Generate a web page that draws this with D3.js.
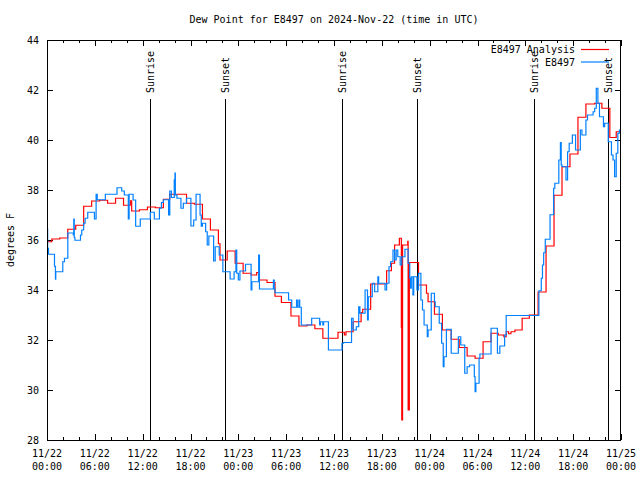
<!DOCTYPE html>
<html><head><meta charset="utf-8">
<script src="https://cdn.jsdelivr.net/npm/d3@7"></script>
<style>
body{margin:0;background:#fff}
svg{display:block}
text{font-family:"DejaVu Sans Mono",monospace;font-size:10px;fill:#000}
</style>
</head><body><svg id="c" width="640" height="480"></svg>
<script>
// ---- data (hours since 2024-11-22 00:00 UTC, dew point in °F) ----
const redHours = [0,0.6,1.6,2.6,3.6,4.6,5.6,6.6,7.6,8.6,9.6,10.45,10.62,11.6,12.6,13.6,14.6,15.4,17.5,18.5,19.5,20.5,21.5,21.7,22.6,23.6,24.6,25.6,26.3,26.6,27.6,28.6,29.4,30.6,31.6,32.6,33.6,34.6,36.5,37.3,37.5,38.4,39.4,39.6,40.6,42.6,43.2,43.6,44.2,44.45,44.5,44.6,45.25,45.3,45.45,46.6,47.6,47.8,48.6,49.6,50.7,51.7,52.7,53.7,54.7,55.7,56.6,57.3,57.6,57.9,58.2,58.7,59.6,60.5,61.6,62.6,63.6,64.6,65.6,66.6,67.6,68.7,69.6,70.6,71.4,72];
const redDew   = [35.93,36.04,36.08,36.43,36.59,37.35,37.56,37.59,37.47,37.67,37.39,37.57,37.16,37.21,37.32,37.29,37.63,37.83,37.47,37.43,36.84,36.4,35.85,35.2,35.56,35.07,34.67,34.6,34.7,34.4,34.3,33.75,33.5,32.96,32.56,32.6,32.45,32.07,32.31,32.2,32.33,32.73,33.1,33.23,34.24,34.77,35.07,35.8,36.07,32.5,28.8,35.8,35.95,29.2,35.1,34.2,33.87,33.53,33.03,32.4,32.03,31.7,31.36,31.27,31.93,32.27,32.2,32.13,32.33,32.25,32.33,32.4,32.87,33.0,33.92,35.76,37.79,38.93,39.44,40.91,41.44,41.47,41.27,40.1,40.33,40.33];

const blueHours = [0,0.08,0.19,0.94,1.06,1.1,1.98,2.19,2.61,3.3,3.36,3.42,3.5,4.2,4.36,4.6,4.78,5.11,5.95,6.16,6.3,7.32,8.78,9.37,9.7,10.2,10.3,10.8,11.12,11.7,12.96,13.46,14.1,14.35,14.6,15.25,15.4,15.6,15.96,16.05,16.1,16.3,16.8,17.1,17.5,18.05,18.4,18.7,19.2,19.35,19.5,19.9,20.1,20.3,20.9,21.1,21.6,22.06,22.97,23.47,23.7,23.8,24.0,24.2,24.9,25.6,25.7,26.55,26.65,28.0,28.4,28.5,28.6,30.3,30.7,31.3,31.4,31.6,31.7,31.9,33.2,34.2,34.3,34.6,34.7,35.3,37.0,37.2,38.2,38.4,38.8,39.1,39.25,39.9,40.2,40.3,40.8,41.1,41.5,41.6,42.4,42.6,42.9,43.1,43.4,43.6,43.8,44.0,44.3,44.5,44.9,45.3,45.5,45.6,45.7,45.9,46.0,46.4,46.6,46.9,47.1,47.3,47.7,47.8,48.2,48.6,48.7,49.2,49.5,49.7,49.8,50.1,50.7,51.6,51.9,52.4,52.7,53.0,53.6,53.7,53.8,54.2,54.3,55.7,56.5,56.8,57.4,57.6,61.7,62.0,62.15,62.3,62.5,63.1,63.55,63.7,64.2,64.4,64.5,64.6,65.1,65.3,65.5,65.9,66.3,66.9,67.1,67.6,67.8,68.5,68.7,68.9,69.1,69.3,69.8,69.95,70.4,70.8,71.0,71.2,71.4,71.6,71.8,72];
const blueDew   = [36.44,35.67,35.43,34.95,34.43,34.73,35.13,35.27,36.28,36.2,36.84,36.1,35.99,36.2,36.4,36.67,36.87,37.11,36.84,37.83,37.61,37.83,38.09,37.96,37.8,36.84,37.83,37.6,36.55,36.84,37.11,36.84,37.27,37.5,37.61,37.0,37.96,37.7,38.41,38.68,37.8,37.67,37.27,37.47,37.67,36.56,36.8,37.83,37.0,36.55,36.67,36.33,35.8,36.16,35.16,35.73,35.4,34.73,34.44,34.73,35.6,34.67,34.4,34.76,35.03,34.0,34.33,35.4,34.04,34.04,34.4,34.04,33.89,33.6,33.31,33.6,33.31,33.6,33.31,32.6,32.87,32.6,32.73,32.6,32.73,31.6,31.87,31.9,32.87,32.4,32.53,33.33,33.07,34.0,32.8,33.73,34.27,33.93,34.53,34.27,34.0,34.27,34.93,35.13,35.6,35.2,35.6,35.33,35.0,35.33,35.63,35.07,34.47,34.07,34.53,33.8,34.53,34.0,34.67,33.6,33.2,32.6,32.13,32.4,33.87,33.53,33.33,32.67,31.87,30.93,31.33,32.43,31.47,32.13,31.8,30.67,30.93,31.0,30.53,29.93,30.27,31.27,31.44,32.47,31.47,31.76,32.2,32.98,33.97,34.47,35.0,35.49,36.03,37.01,38.07,38.27,39.2,39.9,39.0,38.93,38.4,39.53,39.87,40.2,39.6,40.4,40.2,40.8,41.0,41.13,41.27,42.07,41.47,40.93,40.53,40.67,39.93,39.4,39.2,38.53,39.47,40.27,40.4,40.4];

const yTicks = [28,30,32,34,36,38,40,42,44];
const eventLabels = ["Sunrise","Sunset","Sunrise","Sunset","Sunrise","Sunset"];
const eventHours  = [12.95,22.35,36.97,46.36,61.05,70.4];
const seriesNames = ["E8497 Analysis","E8497"];
const seriesColors = ["#ff0000","#0080ff"];
const titleText = "Dew Point for E8497 on 2024-Nov-22 (time in UTC)";
const yLabel = "degrees F";

// ---- chart ----
const base = Date.UTC(2024,10,22);
const toDate = h => new Date(base + h*3600e3);
const L=47, R=621, T=40, B=440;
const svg = d3.select("#c");
const x = d3.scaleUtc().domain([toDate(0), toDate(72)]).range([L,R]);
const y = d3.scaleLinear().domain([28,44]).range([B,T]);

// title and axis label
svg.append("text").attr("x",(L+R)/2).attr("y",23).attr("text-anchor","middle").text(titleText);
svg.append("text").attr("transform",`translate(14,${(T+B)/2}) rotate(-90)`).attr("text-anchor","middle").text(yLabel);

// event lines (behind data)
const ev = svg.append("g");
eventHours.forEach((h,i)=>{
  const xx = Math.round(x(toDate(h)))+0.5;
  ev.append("line").attr("x1",xx).attr("x2",xx).attr("y1",99).attr("y2",B).attr("stroke","#000").attr("stroke-width",1);
  ev.append("text").attr("transform",`translate(${xx+3.5},93) rotate(-90)`).attr("text-anchor","start").text(eventLabels[i]);
});

// axes with inward ticks
const majors = d3.utcHour.every(6).range(toDate(0), toDate(72.01));
const minors = d3.utcHour.every(2).range(toDate(0), toDate(72.01)).filter(d=>d.getUTCHours()%6!==0);
const ax = svg.append("g").attr("stroke","#000").attr("stroke-width",1);
majors.forEach(d=>{
  const xx=Math.round(x(d))+0.5;
  ax.append("line").attr("x1",xx).attr("x2",xx).attr("y1",B).attr("y2",B-6);
  ax.append("line").attr("x1",xx).attr("x2",xx).attr("y1",T).attr("y2",T+6);
});
minors.forEach(d=>{
  const xx=Math.round(x(d))+0.5;
  ax.append("line").attr("x1",xx).attr("x2",xx).attr("y1",B).attr("y2",B-3);
  ax.append("line").attr("x1",xx).attr("x2",xx).attr("y1",T).attr("y2",T+3);
});
yTicks.forEach(v=>{
  const yy=Math.round(y(v))+0.5;
  ax.append("line").attr("x1",L).attr("x2",L+6).attr("y1",yy).attr("y2",yy);
  ax.append("line").attr("x1",R).attr("x2",R-6).attr("y1",yy).attr("y2",yy);
  svg.append("text").attr("x",L-8).attr("y",yy+3.5).attr("text-anchor","end").text(v);
});
const fmtD = d3.utcFormat("%m/%d"), fmtT = d3.utcFormat("%H:%M");
majors.forEach(d=>{
  const xx=x(d);
  svg.append("text").attr("x",xx).attr("y",457).attr("text-anchor","middle").text(fmtD(d));
  svg.append("text").attr("x",xx).attr("y",470).attr("text-anchor","middle").text(fmtT(d));
});

// data lines
const line = d3.line().x(d=>x(toDate(d[0]))).y(d=>y(d[1])).curve(d3.curveStepAfter);
const redData = redHours.map((h,i)=>[h,redDew[i]]);
const blueData = blueHours.map((h,i)=>[h,blueDew[i]]);
svg.append("path").datum(redData).attr("d",line).attr("fill","none").attr("stroke",seriesColors[0]).attr("stroke-width",1.2);
svg.append("path").datum(blueData).attr("d",line).attr("fill","none").attr("stroke",seriesColors[1]).attr("stroke-width",1.2);

// frame
svg.append("rect").attr("x",L+0.5).attr("y",T+0.5).attr("width",R-L-1).attr("height",B-T).attr("fill","none").attr("stroke","#000");

// legend
seriesNames.forEach((n,i)=>{
  const yy = 49.5 + i*12.5;
  svg.append("text").attr("x",575).attr("y",yy+3.5).attr("text-anchor","end").text(n);
  svg.append("line").attr("x1",581).attr("x2",609).attr("y1",yy).attr("y2",yy).attr("stroke",seriesColors[i]).attr("stroke-width",1.2);
});
</script>
</body></html>
